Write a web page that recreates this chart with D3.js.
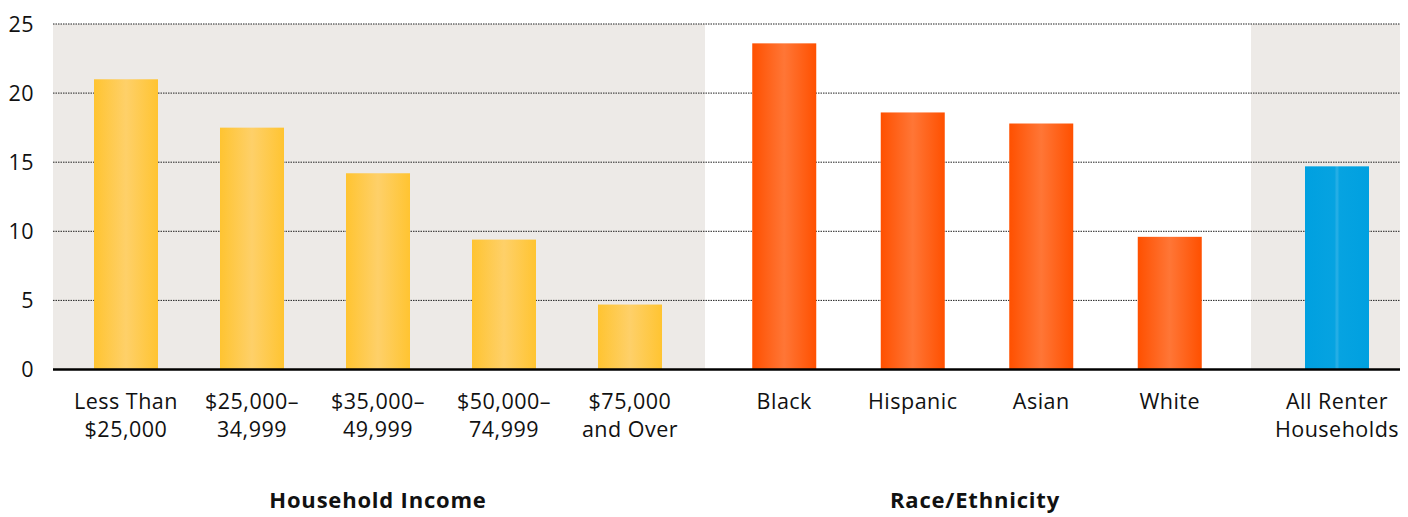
<!DOCTYPE html>
<html>
<head>
<meta charset="utf-8">
<script src="https://cdn.jsdelivr.net/npm/d3@7"></script>
<style>
  body { margin: 0; background: #fff; }
  svg text { font-family: "Open Sans", "Noto Sans", sans-serif; fill: #111; font-weight: 500; }
</style>
</head>
<body>
<svg id="chart"></svg>
<script>
// data
let incomeLabels = [['Less Than', '$25,000'], ['$25,000\u2013', '34,999'], ['$35,000\u2013', '49,999'], ['$50,000\u2013', '74,999'], ['$75,000', 'and Over']];
let incomeValues = [21.0, 17.5, 14.2, 9.4, 4.7];
let raceLabels = [['Black'], ['Hispanic'], ['Asian'], ['White']];
let raceValues = [23.6, 18.6, 17.8, 9.6];
let allLabels = [['All Renter', 'Households']];
let allValues = [14.7];
let groupTitles = ['Household Income', 'Race/Ethnicity', ''];
let yTicks = [0, 5, 10, 15, 20, 25];

let width = 1408;
let height = 517;

let svg = d3.select('#chart')
  .attr('width', width)
  .attr('height', height);

let y = d3.scaleLinear().domain([0, 25]).range([369.5, 24]);

// each group: background extent, bar range, gradient
let groups = [
  { title: groupTitles[0], labels: incomeLabels, values: incomeValues, x0: 53, x1: 705, r0: 63, r1: 693, bg: '#edeae7', grad: 'gYellow', titleX: 378 },
  { title: groupTitles[1], labels: raceLabels, values: raceValues, x0: 705, x1: 1251, r0: 720, r1: 1234, bg: '#ffffff', grad: 'gOrange', titleX: 975 },
  { title: groupTitles[2], labels: allLabels, values: allValues, x0: 1251, x1: 1400, r0: 1273, r1: 1401, bg: '#edeae7', grad: 'gBlue', titleX: 1325 }
];

let defs = svg.append('defs');
function gradient(id, stops) {
  let g = defs.append('linearGradient').attr('id', id)
    .attr('x1', '0%').attr('x2', '100%').attr('y1', '0%').attr('y2', '0%');
  stops.forEach(s => g.append('stop').attr('offset', s[0]).attr('stop-color', s[1]));
}
gradient('gYellow', [[0, '#ffc431'], [0.5, '#fed069'], [1, '#ffc431']]);
gradient('gOrange', [[0, '#ff5000'], [0.5, '#ff7636'], [1, '#ff5000']]);
gradient('gBlue', [[0, '#00a0e0'], [0.46, '#06a3e1'], [0.5, '#2cb0e6'], [0.54, '#06a3e1'], [1, '#00a0e0']]);

// backgrounds
svg.selectAll('rect.bg')
  .data(groups)
  .enter()
  .append('rect')
  .attr('class', 'bg')
  .attr('x', d => d.x0)
  .attr('y', y(25))
  .attr('width', d => d.x1 - d.x0)
  .attr('height', y(0) - y(25))
  .attr('fill', d => d.bg);

// gridlines
svg.selectAll('line.grid')
  .data(yTicks.filter(t => t > 0))
  .enter()
  .append('line')
  .attr('class', 'grid')
  .attr('x1', 53)
  .attr('x2', 1400)
  .attr('y1', d => y(d))
  .attr('y2', d => y(d))
  .attr('stroke', '#222')
  .attr('stroke-width', 1)
  .attr('stroke-dasharray', '1.5,1');

// y tick labels
svg.selectAll('text.ytick')
  .data(yTicks)
  .enter()
  .append('text')
  .attr('class', 'ytick')
  .attr('x', 34)
  .attr('y', d => y(d) + 7.5)
  .attr('text-anchor', 'end')
  .style('font-size', '21.5px')
  .style('letter-spacing', '0.5px')
  .text(d => d);

groups.forEach(g => {
  let x = d3.scaleBand()
    .domain(d3.range(g.values.length))
    .range([g.r0, g.r1])
    .paddingInner(0.49)
    .paddingOuter(0.245);
  if (g.values.length === 1) x.padding(0).range([g.r0, g.r1]);
  let bw = 64;

  svg.selectAll(null)
    .data(g.values)
    .enter()
    .append('rect')
    .attr('x', (d, i) => x(i) + x.bandwidth() / 2 - bw / 2)
    .attr('y', d => y(d))
    .attr('width', bw)
    .attr('height', d => y(0) - y(d))
    .attr('fill', `url(#${g.grad})`);

  let lbl = svg.selectAll(null)
    .data(g.labels)
    .enter()
    .append('text')
    .attr('text-anchor', 'middle')
    .style('font-size', '21.5px')
    .style('letter-spacing', '0.5px');
  lbl.each(function(d, i) {
    let cx = x(i) + x.bandwidth() / 2;
    d3.select(this).selectAll('tspan')
      .data(d)
      .enter()
      .append('tspan')
      .attr('x', cx)
      .attr('y', (t, j) => 409 + j * 28)
      .text(t => t);
  });

  svg.append('text')
    .attr('x', g.titleX)
    .attr('y', 508)
    .attr('text-anchor', 'middle')
    .style('font-size', '22px')
    .style('font-weight', 'bold')
    .style('letter-spacing', '0.8px')
    .text(g.title);
});

// baseline
svg.append('line')
  .attr('x1', 53)
  .attr('x2', 1400)
  .attr('y1', y(0))
  .attr('y2', y(0))
  .attr('stroke', '#000')
  .attr('stroke-width', 2.5);
</script>
</body>
</html>
